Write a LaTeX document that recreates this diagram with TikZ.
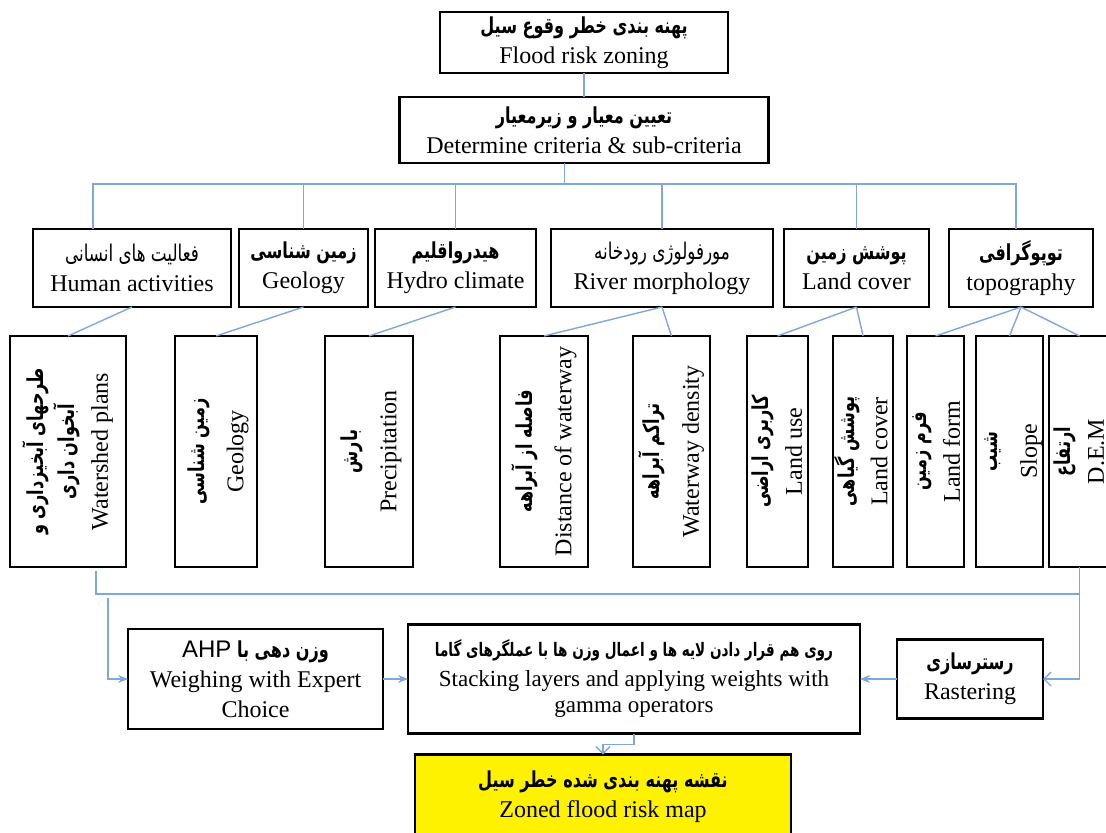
\documentclass[tikz,border=0pt]{standalone}
\usepackage{fontspec}
\usepackage{graphicx}
\setmainfont{Liberation Serif}
\newfontfamily\farsi[Script=Arabic, FakeStretch=0.73]{DejaVu Sans}
\newfontfamily\latinsans{Liberation Sans}
\TeXXeTstate=1
\usetikzlibrary{positioning,arrows.meta}
\definecolor{linkblue}{HTML}{7FA7DB}
\newcommand\fatext[1]{{\farsi\bfseries\fontsize{11}{12}\selectfont\beginR #1\endR}}
\newcommand\fathin[1]{{\farsi\fontsize{11.5}{12}\selectfont\beginR #1\endR}}
\newcommand\vlabel[1]{\makebox[0pt]{\rotatebox{90}{\def\arraystretch{1.3}\begin{tabular}{@{}c@{}}#1\end{tabular}}}}

\begin{document}
\begin{tikzpicture}[x=1pt,y=1pt,
  box/.style={draw, line width=1.4pt, inner sep=1pt, outer sep=0pt, align=center,
    font=\fontsize{12}{15}\selectfont},
  mid/.style={box, minimum height=39pt},
  vbox/.style={box, minimum height=115.5pt},
  link/.style={draw=linkblue, line width=0.7pt}]

  \useasboundingbox (0,0) rectangle (553,416);

  % Nodes
  \node[box, minimum width=144pt, minimum height=30.5pt] (flood) at (292,394.75)
    {\fatext{پهنه بندی خطر وقوع سیل}\\Flood risk zoning};
  \node[box, minimum width=184.5pt, minimum height=33pt, below=12pt of flood] (crit)
    {\fatext{تعیین معیار و زیرمعیار}\\Determine criteria \& sub-criteria};

  \node[mid, minimum width=99pt] (human) at (66,282)
    {\fathin{فعالیت های انسانی}\\Human activities};
  \node[mid, minimum width=64.5pt, right=4pt of human] (geo)
    {\fatext{زمین شناسی}\\Geology};
  \node[mid, minimum width=80.5pt, right=3.5pt of geo] (hydro)
    {\fatext{هیدرواقلیم}\\Hydro climate};
  \node[mid, minimum width=111pt, right=7.5pt of hydro] (river)
    {\fathin{مورفولوژی رودخانه}\\River morphology};
  \node[mid, minimum width=72.5pt, right=5.5pt of river] (land)
    {\fatext{پوشش زمین}\\Land cover};
  \node[mid, minimum width=72pt, right=10pt of land] (topo)
    {\fatext{توپوگرافی}\\topography};

  \node[vbox, minimum width=58pt] (shed) at (34,190.25)
    {\vlabel{\fatext{طرحهای آبخیزداری و}\\[-4pt]\fatext{آبخوان داری}\\[-3pt]Watershed plans}};
  \node[vbox, minimum width=41pt, right=24.5pt of shed] (geolayer)
    {\vlabel{\fatext{زمین شناسی}\\Geology}};
  \node[vbox, minimum width=44pt, right=34pt of geolayer] (rain)
    {\vlabel{\fatext{بارش}\\Precipitation}};
  \node[vbox, minimum width=44pt, right=43.5pt of rain] (dist)
    {\vlabel{\fatext{فاصله از آبراهه}\\Distance of waterway}};
  \node[vbox, minimum width=38.5pt, right=22.5pt of dist] (dens)
    {\vlabel{\fatext{تراکم آبراهه}\\Waterway density}};
  \node[vbox, minimum width=30.5pt, right=18.5pt of dens] (use)
    {\vlabel{\fatext{کاربری اراضی}\\[-3pt]Land use}};
  \node[vbox, minimum width=30pt, right=12.5pt of use] (vegcover)
    {\vlabel{\fatext{پوشش گیاهی}\\[-3pt]Land cover}};
  \node[vbox, minimum width=28.5pt, right=7pt of vegcover] (form)
    {\vlabel{\fatext{فرم زمین}\\[-3pt]Land form}};
  \node[vbox, minimum width=33.5pt, right=6pt of form] (slope)
    {\vlabel{\fatext{شیب}\\Slope}};
  \node[vbox, minimum width=30.5pt, right=3pt of slope] (dem)
    {\vlabel{\fatext{ارتفاع}\\[-3pt]D.E.M}};

  \node[box, minimum width=127.5pt, minimum height=50pt] (weigh) at (127.75,76.5)
    {\fatext{وزن دهی با \beginL{\latinsans\mdseries\fontsize{12}{12}\selectfont AHP}\endL}\\Weighing with Expert\\Choice};
  \node[box, minimum width=226pt, minimum height=54.5pt, right=12.5pt of weigh,
    font=\fontsize{11.5}{13}\selectfont] (stack)
    {{\farsi\bfseries\fontsize{9.3}{12}\selectfont\beginR روی هم قرار دادن لایه ها و اعمال وزن ها با عملگرهای گاما\endR}\\[2pt]
     Stacking layers and applying weights with\\gamma operators};
  \node[box, minimum width=73pt, minimum height=39.5pt, right=18.5pt of stack] (raster)
    {\fatext{رسترسازی}\\Rastering};
  \node[box, fill=yellow, minimum width=188pt, minimum height=42.5pt,
    below=10.5pt of stack, xshift=-15.5pt] (final)
    {\fatext{نقشه پهنه بندی شده خطر سیل}\\Zoned flood risk map};

  % Edges
  \draw[link] (flood.south) -- (crit.north);
  \draw[link] ([xshift=-9.75pt]crit.south) -- ++(0,-10.5) coordinate (busA);
  \coordinate (humin) at ([xshift=-19.5pt]human.north);
  \coordinate (topoin) at ([xshift=-2.5pt]topo.north);
  \draw[link] (humin) |- (busA) -| (topoin);
  \foreach \n in {geo,hydro,river,land}
    \draw[link] (busA -| \n.north) -- (\n.north);

  \foreach \p/\c in {human/shed, geo/geolayer, hydro/rain, river/dist, river/dens,
                     land/use, land/vegcover, topo/form, topo/slope, topo/dem}
    \draw[link] (\p.south) -- (\c.north);

  \coordinate (shedout) at ([xshift=14pt,yshift=-2pt]shed.south);
  \coordinate (weighin) at ([xshift=20pt,yshift=-15.5pt]shed.south);
  \draw[link] (shedout) |- ([yshift=-13.5pt]dem.south);
  \draw[link, -{Straight Barb[length=3.5pt,width=7pt]}] (dem.south) |- (raster.east);
  \draw[link, -{Stealth[length=5pt,width=4pt]}] (weighin) |- (weigh.west);
  \draw[link, -{Stealth[length=5pt,width=4pt]}] (weigh) -- (stack);
  \draw[link, -{Stealth[length=5pt,width=4pt]}] (raster) -- (stack);
  \draw[link, -{Straight Barb[length=3.5pt,width=7pt]}] (stack.south) -- ++(0,-5.5) -| (final.north);
\end{tikzpicture}
\end{document}
